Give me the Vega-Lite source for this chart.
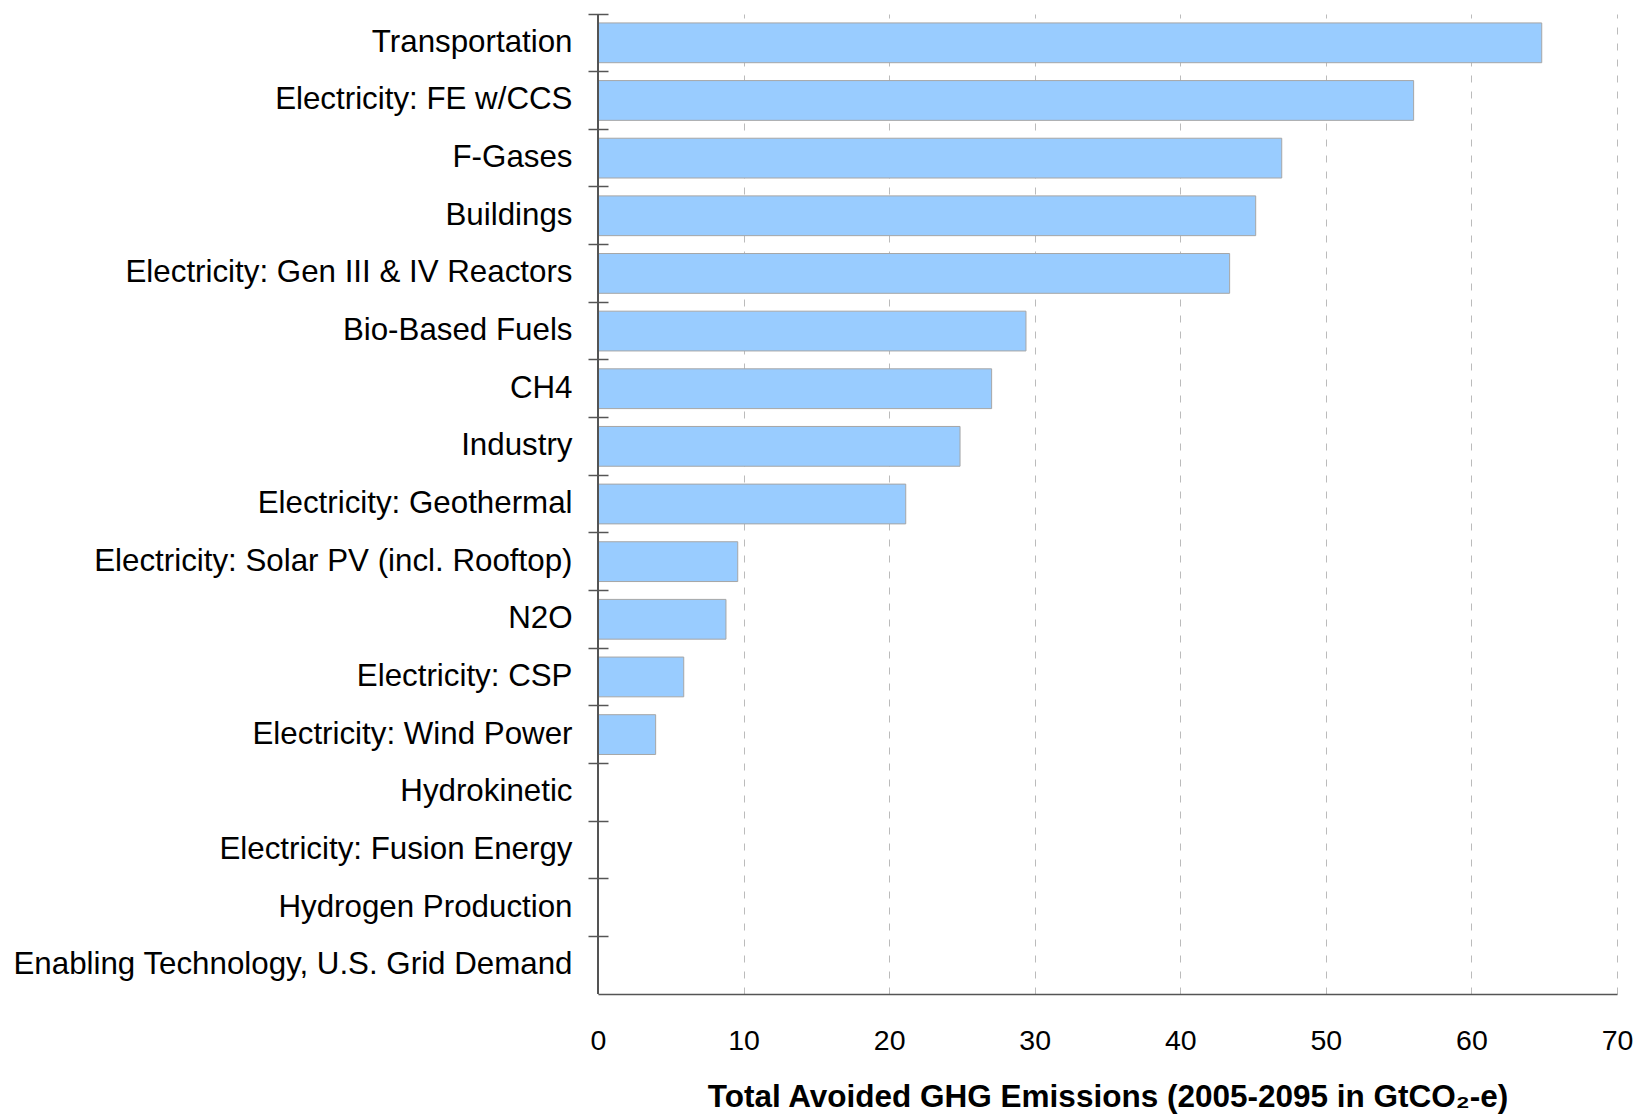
{
  "$schema": "https://vega.github.io/schema/vega-lite/v6.json",
  "width": 1019,
  "height": 980,
  "autosize": "none",
  "padding": {"left": 598, "top": 14, "right": 23, "bottom": 121},
  "background": "white",
  "config": {"view": {"stroke": null}, "font": "Liberation Sans"},
  "data": {
    "values": [
      {"category": "Transportation", "value": 64.83},
      {"category": "Electricity: FE w/CCS", "value": 56.03},
      {"category": "F-Gases", "value": 46.97},
      {"category": "Buildings", "value": 45.18},
      {"category": "Electricity: Gen III & IV Reactors", "value": 43.39},
      {"category": "Bio-Based Fuels", "value": 29.4},
      {"category": "CH4", "value": 27.04},
      {"category": "Industry", "value": 24.87},
      {"category": "Electricity: Geothermal", "value": 21.14},
      {"category": "Electricity: Solar PV (incl. Rooftop)", "value": 9.6},
      {"category": "N2O", "value": 8.79},
      {"category": "Electricity: CSP", "value": 5.89},
      {"category": "Electricity: Wind Power", "value": 3.96},
      {"category": "Hydrokinetic", "value": 0},
      {"category": "Electricity: Fusion Energy", "value": 0},
      {"category": "Hydrogen Production", "value": 0},
      {"category": "Enabling Technology, U.S. Grid Demand", "value": 0}
    ]
  },
  "layer": [
    {
      "mark": {"type": "bar", "fill": "#99CCFF", "stroke": "#A6A6A6", "strokeWidth": 1, "height": {"band": 0.69}},
      "encoding": {
        "y": {
          "field": "category",
          "type": "nominal",
          "sort": null,
          "scale": {"paddingInner": 0, "paddingOuter": 0},
          "axis": {
            "title": null,
            "domain": false,
            "offset": -10,
            "tickSize": 20,
            "tickColor": "#555555",
            "tickWidth": 1.5,
            "bandPosition": 0,
            "labelPadding": 16,
            "labelFontSize": 31.3,
            "labelColor": "#000000",
            "labelFont": "Liberation Sans",
            "labelLimit": 700,
            "grid": false
          }
        },
        "x": {
          "field": "value",
          "type": "quantitative",
          "scale": {"domain": [0, 70], "nice": false},
          "axis": {
            "title": "Total Avoided GHG Emissions (2005-2095 in GtCO₂-e)",
            "titleFont": "Liberation Sans",
            "titleFontSize": 31.5,
            "titleFontWeight": "bold",
            "titleColor": "#000000",
            "titleBaseline": "alphabetic",
            "titleY": 112,
            "values": [0, 10, 20, 30, 40, 50, 60, 70],
            "ticks": false,
            "tickSize": 0,
            "labelPadding": 55,
            "labelBaseline": "alphabetic",
            "labelFontSize": 28.5,
            "labelColor": "#000000",
            "labelFont": "Liberation Sans",
            "labelFlush": false,
            "domainColor": "#555555",
            "domainWidth": 1.5,
            "grid": true,
            "gridColor": "#BBBBBB",
            "gridDash": [7, 9],
            "gridWidth": 1
          }
        }
      }
    },
    {
      "mark": {"type": "rule", "color": "#555555", "strokeWidth": 1.5},
      "encoding": {"x": {"datum": 0}}
    }
  ]
}
